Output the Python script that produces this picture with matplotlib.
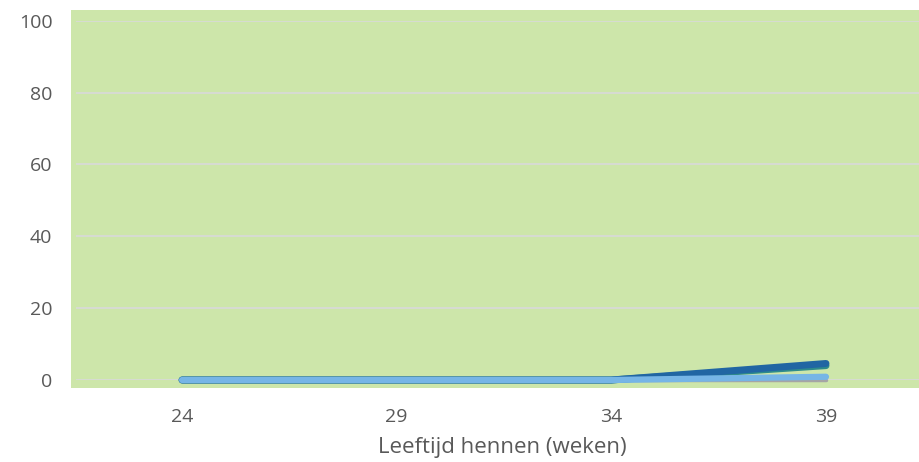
import matplotlib.pyplot as plt
from matplotlib.patches import Rectangle

plt.rcParams['font.family'] = ['Open Sans', 'DejaVu Sans']

# leeftijd in weken en percentages per reeks
weken = [24, 29, 34, 39]
reeks_donkerblauw = [0, 0, 0, 4.6]
reeks_teal = [0, 0, 0, 4.0]
reeks_lichtblauw = [0, 0, 0, 0.9]
reeks_grijs = [0, 0, 0, 0]
y_ticks = [0, 20, 40, 60, 80, 100]

W, H = 920, 462
fig = plt.figure(figsize=(W / 100, H / 100), dpi=100)
fig.patch.set_facecolor('white')

# groene achtergrond van het grafiekgebied
fig.patches.append(Rectangle((71 / W, 1 - 388 / H), (W - 71) / W, (388 - 10) / H,
                             transform=fig.transFigure, facecolor='#CDE6AA',
                             edgecolor='none', zorder=-1))

ax = fig.add_axes([76 / W, 1 - 380 / H, (W - 76) / W, (380 - 20.7) / H])
ax.set_zorder(1)
ax.set_facecolor('none')

stijl = dict(solid_capstyle='round', clip_on=False)
ax.plot(weken, reeks_grijs, color='#A5A5A5', lw=2.5, zorder=3, **stijl)
ax.plot(weken, reeks_teal, color='#2E8B8B', lw=5, zorder=4, **stijl)
ax.plot(weken, reeks_donkerblauw, color='#2166A3', lw=5, zorder=5, **stijl)
ax.plot(weken, reeks_lichtblauw, color='#76B5E6', lw=4.5, zorder=6, **stijl)

ax.set_xlim(21.53, 41.19)
ax.set_ylim(0, 100)
ax.set_xticks(weken)
ax.set_yticks(y_ticks)
ax.grid(axis='y', color='#D9D9D9', lw=1.2, zorder=1)
ax.set_axisbelow(True)
for s in ax.spines.values():
    s.set_visible(False)
ax.tick_params(length=0, labelsize=14, labelcolor='#595959')
ax.tick_params(axis='y', pad=17)
ax.tick_params(axis='x', pad=20)

fig.text(502 / W, 1 - 448 / H, 'Leeftijd hennen (weken)', ha='center', va='center',
         fontsize=16, color='#595959')

fig.savefig('out.png', dpi=100)
